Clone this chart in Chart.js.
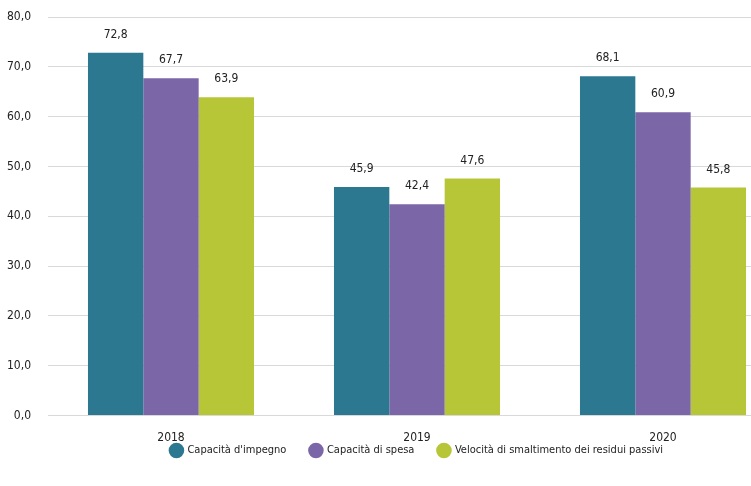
<!DOCTYPE html>
<html>
<head>
<meta charset="utf-8">
<script src="https://cdn.jsdelivr.net/npm/chart.js@4/dist/chart.umd.min.js"></script>
<style>
  html, body { margin: 0; padding: 0; background: #fff; overflow: hidden; }
  #wrap { position: relative; width: 790px; height: 486px; }
</style>
</head>
<body>
<div id="wrap"><canvas id="c" width="790" height="486"></canvas></div>
<script>
const years = ['2018', '2019', '2020'];
const capacitaImpegno = [72.8, 45.9, 68.1];
const capacitaSpesa = [67.7, 42.4, 60.9];
const velocitaSmaltimento = [63.9, 47.6, 45.8];
const seriesNames = ["Capacità d'impegno", 'Capacità di spesa', 'Velocità di smaltimento dei residui passivi'];
const seriesColors = ['#2c7891', '#7b67a8', '#b7c637'];

const FONT = "'DejaVu Sans Condensed', 'Liberation Sans Narrow', sans-serif";
const fmt = v => v.toFixed(1).replace('.', ',');

// value printed above each bar
const valueLabels = {
  id: 'valueLabels',
  afterDatasetsDraw(chart) {
    const ctx = chart.ctx;
    ctx.save();
    ctx.font = '12px ' + FONT;
    ctx.fillStyle = '#222';
    ctx.textAlign = 'center';
    ctx.textBaseline = 'middle';
    chart.data.datasets.forEach((ds, i) => {
      chart.getDatasetMeta(i).data.forEach((bar, j) => {
        ctx.fillText(fmt(ds.data[j]), bar.x, bar.y - 18);
      });
    });
    ctx.restore();
  }
};

// pull the legend row up so it sits just under the year labels
const legendLift = {
  id: 'legendLift',
  afterLayout(chart) {
    const lg = chart.legend;
    if (!lg) return;
    const shift = 31;
    lg.top -= shift;
    lg.bottom -= shift;
  }
};

new Chart(document.getElementById('c'), {
  type: 'bar',
  data: {
    labels: years,
    datasets: [capacitaImpegno, capacitaSpesa, velocitaSmaltimento].map((d, i) => ({
      label: seriesNames[i],
      data: d,
      backgroundColor: seriesColors[i],
      borderWidth: 0,
      categoryPercentage: 0.675,
      barPercentage: 1
    }))
  },
  options: {
    responsive: false,
    animation: false,
    devicePixelRatio: 1,
    layout: { padding: { top: 17, right: 4, left: 0, bottom: -11 } },
    scales: {
      x: {
        grid: { display: false },
        border: { display: false },
        ticks: { font: { family: FONT, size: 12 }, color: '#222', padding: 7 }
      },
      y: {
        min: 0, max: 80,
        afterFit: s => { s.width = 48; s.paddingTop = 0; s.paddingBottom = 0; },
        grid: { color: '#d9d9d9', lineWidth: 1, drawTicks: false },
        border: { display: false },
        ticks: {
          stepSize: 10,
          font: { family: FONT, size: 12 },
          color: '#222',
          padding: 17,
          callback: v => fmt(v)
        }
      }
    },
    plugins: {
      tooltip: { enabled: false },
      legend: {
        position: 'bottom',
        fullSize: false,
        labels: {
          usePointStyle: true,
          pointStyle: 'circle',
          boxWidth: 11,
          boxHeight: 11,
          padding: 24,
          font: { family: FONT, size: 11 },
          color: '#222'
        }
      }
    }
  },
  plugins: [valueLabels, legendLift]
});
</script>
</body>
</html>
